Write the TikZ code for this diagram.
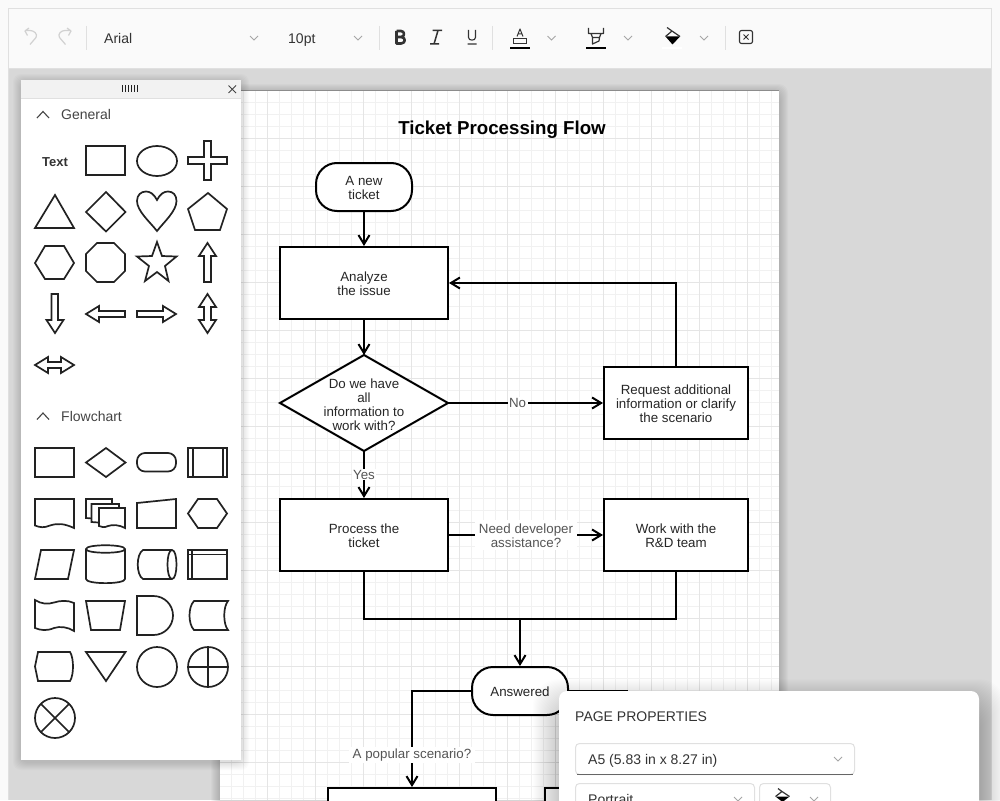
\documentclass[tikz,border=0pt]{standalone}
\usepackage{fontspec}
\setmainfont{Liberation Sans}
\usetikzlibrary{arrows.meta,positioning}
\definecolor{gridminor}{HTML}{F1F1F1}
\definecolor{gridmajor}{HTML}{E5E5E5}
\definecolor{canvasgray}{HTML}{D8D8D8}
\definecolor{barfill}{HTML}{FAFAFA}
\definecolor{barline}{HTML}{E0E0E0}
\definecolor{inkdark}{HTML}{222222}
\definecolor{iconink}{HTML}{333333}
\definecolor{uitext}{HTML}{444444}
\definecolor{labelink}{HTML}{555555}
\newcommand{\softshadow}[7]{%
  \foreach \s in {1,...,#5}{
    \fill[black,opacity=#6,rounded corners=#5] (#1-\s+0,#2-\s+#7) rectangle (#3+\s+0,#4+\s+#7);
  }}
\newcommand{\chevdown}[2]{\draw[chev] (#1-4,#2-2) -- (#1,#2+2) -- (#1+4,#2-2);}
\newcommand{\lineone}{\rule{0pt}{11.7pt}}
\newcommand{\linetwo}{\rule{0pt}{13.7pt}}
\tikzset{
  x=1pt,y=-1pt,
  flowbox/.style={draw=black,line width=2pt,fill=white,minimum width=168pt,minimum height=72pt,inner sep=0pt,align=center,font=\fontsize{13.33}{14}\selectfont,text=black!85},
  sidebox/.style={flowbox,minimum width=144pt},
  decisionbox/.style={flowbox,draw=none,fill=none},
  termbox/.style={flowbox,rounded corners=21pt,minimum width=96pt,minimum height=48pt},
  flowarrow/.style={draw=black,line width=2pt,-{Straight Barb[length=9pt,width=11pt,line width=2pt]}},
  flowline/.style={draw=black,line width=2pt},
  edgelabel/.style={fill=white,inner xsep=4pt,inner ysep=2pt,align=center,text=labelink,font=\fontsize{13.33}{14}\selectfont},
  shapeink/.style={draw=inkdark,line width=1.7pt,line join=miter,fill=white},
  chev/.style={draw=gray!70,line width=0.9pt},
  chevup/.style={draw=uitext,line width=1.1pt},
  sep/.style={draw=barline,line width=1pt},
  uilabel/.style={inner sep=0pt,anchor=base west,text=uitext,font=\fontsize{14}{16}\selectfont},
  ddbox/.style={draw=barline,line width=1pt,fill=white,rounded corners=4pt},
}
\begin{document}
\begin{tikzpicture}
\useasboundingbox (0,0) rectangle (1000,800);
\clip (0,0) rectangle (1000,800);
% frame and canvas
\fill[white!98!black] (0,0) rectangle (1000,800);
\fill[canvasgray] (9,68) rectangle (991,800);
\fill[barfill] (9,9) rectangle (991,68);
\draw[barline,line width=1pt] (8.5,800) -- (8.5,8.5) -- (991.5,8.5) -- (991.5,800);
\draw[barline,line width=1pt] (9,68) -- (991,68);
% page
\softshadow{220}{91}{779}{810}{9}{0.018}{2}
\fill[black!45] (220,90) rectangle (779,91.5);
\fill[white] (220,91) rectangle (779,800);
\begin{scope}
  \clip (220,91) rectangle (779,800);
  \foreach \k in {0,...,47}{\draw[gridminor,line width=1pt] (219.5+12*\k,91) -- (219.5+12*\k,800);}
  \foreach \k in {0,...,60}{\draw[gridminor,line width=1pt] (220,90.5+12*\k) -- (779,90.5+12*\k);}
  \foreach \k in {0,...,11}{\draw[gridmajor,line width=1pt] (267.5+48*\k,91) -- (267.5+48*\k,800);}
  \foreach \k in {0,...,14}{\draw[gridmajor,line width=1pt] (220,138.5+48*\k) -- (779,138.5+48*\k);}
\end{scope}
% flow
\node[inner sep=0pt,font=\fontsize{18.7}{20}\bfseries\selectfont] (title) at (502,129.5) {Ticket Processing Flow};
\node[termbox] (start) at (364,187) {\lineone A new\\ticket};
\node[flowbox] (analyze) at (364,283) {\lineone Analyze\\the issue};
\draw[line width=2pt,fill=white] (280,403) -- (364,355) -- (448,403) -- (364,451) -- cycle;
\node[decisionbox] (decide) at (364,403) {\linetwo Do we have\\all\\information to\\work with?};
\coordinate (dN) at (364,355);
\coordinate (dS) at (364,451);
\coordinate (dE) at (448,403);
\node[sidebox] (request) at (676,403) {\lineone Request additional\\information or clarify\\the scenario};
\node[flowbox] (process) at (364,535) {\lineone Process the\\ticket};
\node[sidebox] (work) at (676,535) {\lineone Work with the\\R\&D team};
\node[termbox] (answered) at (520,691) {\lineone Answered};
\node[flowbox,anchor=north] (boxA) at (412,787) {};
\node[sidebox,anchor=north west] (boxB) at (544,787) {};
\coordinate (join) at (520,619);
\coordinate (rightstub) at (628,691);
\draw[flowarrow] (start) -- (analyze);
\draw[flowarrow] (analyze) -- (dN);
\draw[flowarrow] (dE) -- node[edgelabel,pos=0.449,inner xsep=1.5pt,inner ysep=1.5pt] (lno) {No} (request);
\draw[flowarrow] (request.north) |- (analyze.east);
\draw[flowarrow] (dS) -- node[edgelabel,pos=0.5,inner xsep=1pt,inner ysep=1pt] (lyes) {Yes} (process);
\draw[flowarrow] (process) -- node[edgelabel,pos=0.5] (ldev) {\lineone Need developer\\assistance?} (work);
\draw[flowline] (process.south) |- (join);
\draw[flowline] (work.south) |- (join);
\draw[flowarrow] (join) -- (answered);
\draw[flowarrow] (answered.west) -| node[edgelabel,pos=0.833] (lpop) {A popular scenario?} (boxA.north);
\draw[flowline] (answered.east) -- (rightstub);
% left palette
\softshadow{21}{80}{241}{760}{8}{0.016}{2}
\fill[white] (21,80) rectangle (241,760);
\fill[black!5] (21,80) rectangle (241,98);
\draw[black!12,line width=1pt] (21,98.5) -- (241,98.5);
\foreach \k in {0,...,5}{\draw[inkdark,line width=1pt] (122.5+3*\k,85) -- (122.5+3*\k,92);}
\draw[uitext,line width=0.9pt] (228.5,85.5) -- (236,93) (236,85.5) -- (228.5,93);
\draw[chevup] (37,118) -- (43,111.5) -- (49,118);
\node[uilabel] (gen) at (61,119) {General};
\draw[chevup] (37,419.5) -- (43,413) -- (49,419.5);
\node[uilabel] (fc) at (61,421) {Flowchart};
\node[inner sep=0pt,text=iconink,font=\fontsize{13}{14}\bfseries\selectfont] (txt) at (55,162.5) {Text};
% general shapes
\draw[shapeink] (86,146) rectangle (125,175);
\draw[shapeink] (157,161) ellipse [x radius=20,y radius=15];
\draw[shapeink] (204,141) -- (211,141) -- (211,157) -- (227,157) -- (227,164) -- (211,164) -- (211,180) -- (204,180) -- (204,164) -- (188,164) -- (188,157) -- (204,157) -- cycle;
\draw[shapeink] (55,195) -- (74,228) -- (35,228) -- cycle;
\draw[shapeink] (106,192) -- (125.5,212) -- (106,231.5) -- (86,212) -- cycle;
\draw[shapeink] (157,200) .. controls (154,194) and (150,191.5) .. (146,191.5) .. controls (141,191.5) and (137,195) .. (137,201) .. controls (137,211) and (150,222) .. (157,231) .. controls (164,222) and (176.5,211) .. (176.5,201) .. controls (176.5,195) and (173,191.5) .. (168,191.5) .. controls (164,191.5) and (160,194) .. (157,200) -- cycle;
\draw[shapeink] (208,193) -- (227,209) -- (220,230) -- (195,230) -- (188,209) -- cycle;
\draw[shapeink] (35,263) -- (45,246) -- (64,246) -- (74,263) -- (64,279) -- (45,279) -- cycle;
\draw[shapeink] (97,243) -- (114,243) -- (125,254) -- (125,271) -- (114,282) -- (97,282) -- (86,271) -- (86,254) -- cycle;
\draw[shapeink] (157,242) -- (162,256) -- (176.5,256.5) -- (165,266) -- (168.5,281) -- (157,272) -- (145,281) -- (149,266) -- (137,256.5) -- (152,256) -- cycle;
\draw[shapeink] (207.5,243) -- (216,256) -- (211,256) -- (211,282) -- (204,282) -- (204,256) -- (199,256) -- cycle;
\draw[shapeink] (51.5,294) -- (58,294) -- (58,320) -- (63.5,320) -- (55,333) -- (46.5,320) -- (51.5,320) -- cycle;
\draw[shapeink] (86,314) -- (99,306) -- (99,311) -- (125,311) -- (125,317) -- (99,317) -- (99,322) -- cycle;
\draw[shapeink] (176,314) -- (163,306) -- (163,311) -- (137,311) -- (137,317) -- (163,317) -- (163,322) -- cycle;
\draw[shapeink] (207.5,294) -- (216,307) -- (211,307) -- (211,320) -- (216,320) -- (207.5,333) -- (199,320) -- (204,320) -- (204,307) -- (199,307) -- cycle;
\draw[shapeink] (35,365) -- (48,357) -- (48,362) -- (61,362) -- (61,357) -- (74,365) -- (61,373) -- (61,368) -- (48,368) -- (48,373) -- cycle;
% flowchart shapes
\draw[shapeink] (35,448) rectangle (74,477);
\draw[shapeink] (86,462.5) -- (106,448) -- (125.5,462.5) -- (106,477) -- cycle;
\draw[shapeink,rounded corners=8pt] (137,453) rectangle (176,471.5);
\draw[shapeink] (188,448) rectangle (227,477);
\draw[shapeink] (193,448) -- (193,477) (223,448) -- (223,477);
\draw[shapeink] (35,499) -- (74,499) -- (74,528) .. controls (64,523.5) and (58,523) .. (50,525.5) .. controls (44,528) and (40,527.5) .. (35,525.5) -- cycle;
\draw[shapeink] (86,499) -- (112,499) -- (112,520) -- (86,518) -- cycle;
\draw[shapeink] (91.5,504) -- (119,504) -- (119,524) -- (91.5,522) -- cycle;
\draw[shapeink] (99,508) -- (125,508) -- (125,528) .. controls (118,524.5) and (113,524.5) .. (108,526) .. controls (104,528) and (102,527) .. (99,526) -- cycle;
\draw[shapeink] (137,503) -- (176,499) -- (176,528) -- (137,528) -- cycle;
\draw[shapeink] (188,513.5) -- (198,499) -- (217,499) -- (227,513.5) -- (217,528) -- (198,528) -- cycle;
\draw[shapeink] (41,550) -- (74,550) -- (68,579) -- (35,579) -- cycle;
\draw[shapeink] (86,549) .. controls (86,544) and (125,544) .. (125,549) -- (125,579) .. controls (125,584.5) and (86,584.5) .. (86,579) -- cycle;
\draw[shapeink] (86,549) .. controls (86,554) and (125,554) .. (125,549);
\draw[shapeink] (143,550) -- (172,550) .. controls (178,550) and (178,579) .. (172,579) -- (143,579) .. controls (136,575) and (136,554) .. (143,550) -- cycle;
\draw[shapeink] (172,550) .. controls (166,550) and (166,579) .. (172,579);
\draw[shapeink] (188,550) rectangle (227,579);
\draw[shapeink] (192,550) -- (192,579) (188,554.5) -- (227,554.5);
\draw[shapeink] (35,600) .. controls (41,604) and (48,604.5) .. (54,602.5) .. controls (60,600.5) and (68,600) .. (74,603) -- (74,631) .. controls (68,627) and (60,626) .. (54,628) .. controls (47,631) and (41,630.5) .. (35,628) -- cycle;
\draw[shapeink] (86,601) -- (125,601) -- (120,630) -- (91,630) -- cycle;
\draw[shapeink] (137,596) -- (153.5,596) .. controls (164.3,596) and (173,604.7) .. (173,615.5) .. controls (173,626.3) and (164.3,635) .. (153.5,635) -- (137,635) -- cycle;
\draw[shapeink] (194,601) -- (228,601) .. controls (223,607) and (223,624) .. (228,630) -- (194,630) .. controls (188,624) and (188,607) .. (194,601) -- cycle;
\draw[shapeink] (38,652) -- (70,652) .. controls (74,658) and (74,675) .. (70,681) -- (38,681) -- (35,666.5) -- cycle;
\draw[shapeink] (86,652) -- (125.5,652) -- (106,681) -- cycle;
\draw[shapeink] (157,667) circle [radius=20];
\draw[shapeink] (208,667) circle [radius=20];
\draw[shapeink] (188,667) -- (228,667) (208,647) -- (208,687);
\draw[shapeink] (55,718) circle [radius=20];
\draw[shapeink] (40.9,703.9) -- (69.1,732.1) (69.1,703.9) -- (40.9,732.1);
% toolbar
\foreach \xx in {86.5,379.5,492.5,725.5}{\draw[sep] (\xx,26) -- (\xx,50);}
\draw[black!18,line width=1.2pt,line join=round] (30,44.5) -- (36,37.5) .. controls (38,34) and (34,30.5) .. (30,30.5) -- (25,30.5) (29,28) -- (25,31) -- (27.5,35.5);
\draw[black!18,line width=1.2pt,line join=round] (65.5,44.5) -- (59.5,37.5) .. controls (57.5,34) and (61,30.5) .. (65,30.5) -- (71,30.5) (67,28) -- (71,31) -- (68.5,35.5);
\node[uilabel,text=iconink] (fontname) at (104,43.7) {Arial};
\node[uilabel,text=iconink] (fontsize) at (288,43.7) {10pt};
\chevdown{254}{38}
\chevdown{358}{38}
\chevdown{551.5}{38}
\chevdown{628}{38}
\chevdown{704}{38}
\draw[iconink,line width=2.6pt,line join=round] (396.5,31) -- (396.5,43.5) -- (401,43.5) .. controls (406,43.5) and (406,37) .. (401,37) -- (396.5,37) (401,37) .. controls (405,37) and (405,31) .. (401,31) -- (396.5,31);
\draw[iconink,line width=1.5pt] (432.5,30.5) -- (442,30.5) (430,44) -- (439,44) (438,30.5) -- (434,44);
\draw[iconink,line width=1.1pt] (468.5,30) -- (468.5,37.5) .. controls (468.5,41) and (475.5,41) .. (475.5,37.5) -- (475.5,30) (467.5,44) -- (476.5,44);
\draw[iconink,line width=1pt,line join=round] (517,36.5) -- (520,29) -- (523,36.5) (518,34) -- (522,34);
\draw[iconink,line width=1pt] (513.5,38.5) rectangle (526.5,43.5);
\fill[black] (510,47) rectangle (530,49.5);
\draw[iconink,line width=1.2pt,line join=round] (588.5,28) -- (588.5,33.5) -- (603.5,33.5) -- (603.5,28) (591,33.5) -- (592.5,37.5) -- (599.5,37.5) -- (601,33.5) (592.5,37.5) -- (592.5,44) -- (599,41) -- (599.5,37.5);
\fill[black] (586,47) rectangle (606,49.5);
\fill[black] (665.5,36.5) -- (680,36.5) -- (672.5,44.5) -- cycle;
\draw[iconink,line width=1.2pt,line join=round] (665.5,36.5) -- (672,31) -- (680,36.5) (667,27.5) -- (672,31);
\fill[white] (662,47) rectangle (682,49.5);
\draw[iconink,line width=1.1pt,rounded corners=2pt] (739.5,30.5) rectangle (752.5,43.5);
\draw[iconink,line width=1pt] (743.5,34.5) -- (748.5,39.5) (748.5,34.5) -- (743.5,39.5);
% page properties panel
\softshadow{559}{691}{979}{830}{26}{0.008}{14}
\fill[white,rounded corners=8pt] (559,691) rectangle (979,830);
\node[uilabel,text=iconink] (pp) at (575,721) {PAGE PROPERTIES};
\draw[ddbox] (575.5,743.5) rectangle (854.5,774.5);
\draw[black!60,line width=1pt] (577,774.5) -- (853,774.5);
\node[uilabel,text=iconink] (sz) at (588,764) {A5 (5.83 in x 8.27 in)};
\chevdown{838}{759}
\draw[ddbox] (575.5,783.5) rectangle (754.5,820);
\node[uilabel,text=iconink] (or) at (588,804) {Portrait};
\chevdown{738}{799}
\draw[ddbox] (759.5,783.5) rectangle (830.5,820);
\fill[black] (775.5,796.5) -- (789.5,796.5) -- (782.5,802) -- cycle;
\draw[iconink,line width=1.2pt,line join=round] (775.5,796.5) -- (782,791.5) -- (789.5,796.5) (778,788.5) -- (782,791.5);
\chevdown{814}{799}
\end{tikzpicture}
\end{document}
